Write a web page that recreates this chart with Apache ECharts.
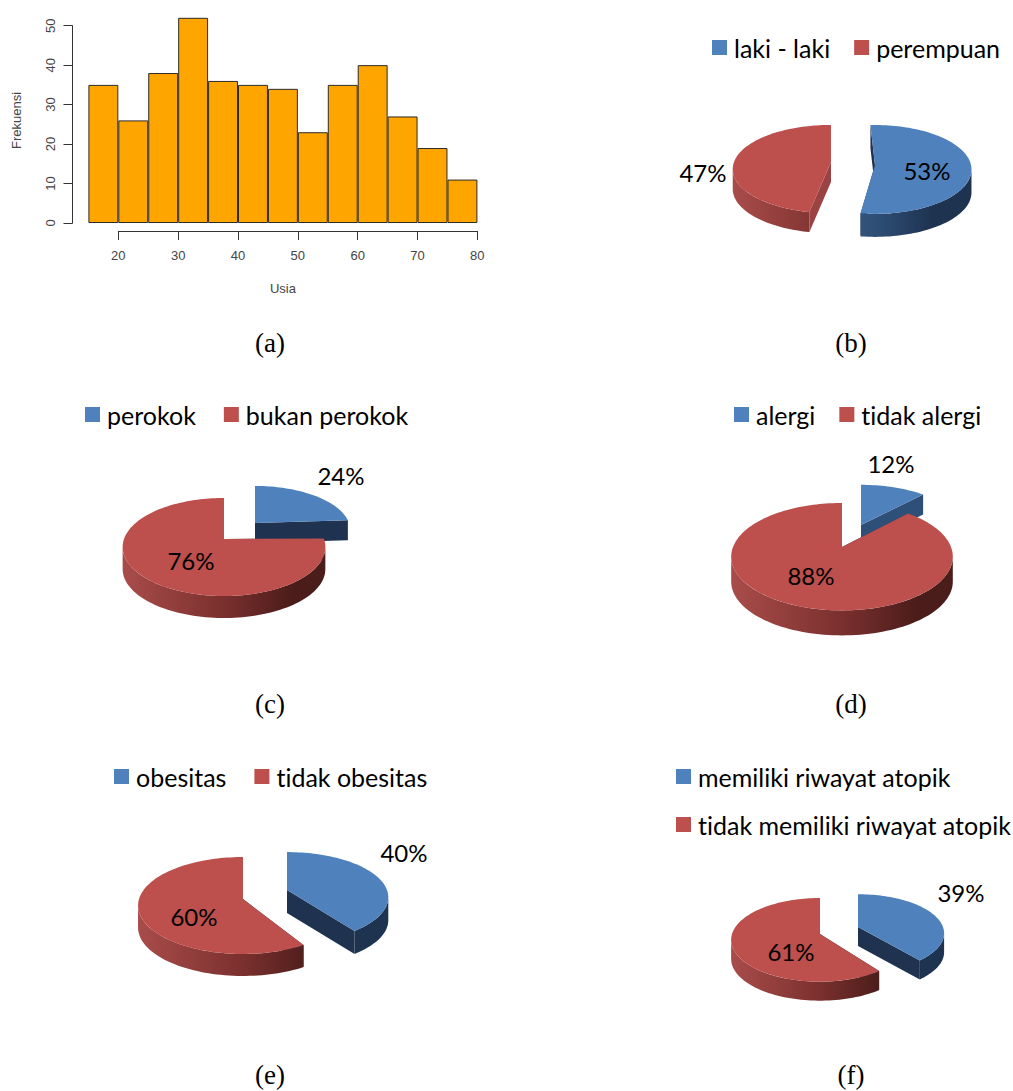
<!DOCTYPE html>
<html>
<head>
<meta charset="utf-8">
<title>Karakteristik responden</title>
<script src="https://cdn.jsdelivr.net/npm/echarts@6/dist/echarts.min.js"></script>
<style>
    html, body { margin: 0; padding: 0; background: #fff; }
    #chart { width: 1013px; height: 1091px; }
    #chart text { font-variant-ligatures: none; }
</style>
</head>
<body>
<div id="chart"></div>
<script>
// histogram (a): 5 year bins from 15 to 80
const usiaBins = ['15-20', '20-25', '25-30', '30-35', '35-40', '40-45', '45-50', '50-55', '55-60', '60-65', '65-70', '70-75', '75-80'];
const frekuensi = [35, 26, 38, 52, 36, 35, 34, 23, 35, 40, 27, 19, 11];

// pies (b)-(f), blue slice first
const jenisKelaminNames = ['laki - laki', 'perempuan'];
const jenisKelaminValues = [53, 47];
const perokokNames = ['perokok', 'bukan perokok'];
const perokokValues = [24, 76];
const alergiNames = ['alergi', 'tidak alergi'];
const alergiValues = [12, 88];
const obesitasNames = ['obesitas', 'tidak obesitas'];
const obesitasValues = [40, 60];
const atopikNames = ['memiliki riwayat atopik', 'tidak memiliki riwayat atopik'];
const atopikValues = [39, 61];

const captions = ['(a)', '(b)', '(c)', '(d)', '(e)', '(f)'];

// svg so the css above can switch off the Lato "ti" ligature
const myChart = echarts.init(document.getElementById('chart'), null, { renderer: 'svg' });

const BLUE = '#4f81bd';
const RED = '#bd4f4c';
const NAVY = '#1f3350';
const FONT = 'Lato';

const blueWall = [
    { offset: 0, color: '#3e6594' }, { offset: 0.5, color: '#2f4f77' },
    { offset: 0.8, color: '#1e3350' }, { offset: 1, color: '#1e3350' }
];
const redWall = [
    { offset: 0, color: '#a84c4a' }, { offset: 0.5, color: '#7a302e' },
    { offset: 0.85, color: '#4a1c1a' }, { offset: 1, color: '#4a1c1a' }
];

// where each slice sits: apex, radii, depth, perspective k, rot/trim in degrees, label centre
const panels = [
    {
        names: jenisKelaminNames, values: jenisKelaminValues,
        legend: { left: 712, top: 35, itemGap: 24 },
        slices: [
            { ax: 875, ay: 165, R: 96, Rv: 44, D: 23, k: 0.1, rot: -3, cut: NAVY, lx: 927, ly: 170 },
            { ax: 831, ay: 162, R: 97, Rv: 43, D: 20, k: 0.16, cut: '#9b4342', lx: 703, ly: 172 }
        ]
    },
    {
        names: perokokNames, values: perokokValues,
        legend: { left: 85, top: 402, itemGap: 28 },
        slices: [
            { ax: 255, ay: 523, R: 94, Rv: 43, D: 20, k: 0.16, cut: NAVY, lx: 341, ly: 475 },
            { ax: 224, ay: 539, R: 100, Rv: 47.7, D: 22, k: 0.163, trim: 3, cut: NAVY, lx: 191, ly: 560 }
        ]
    },
    {
        names: alergiNames, values: alergiValues,
        legend: { left: 734, top: 402, itemGap: 24 },
        slices: [
            { ax: 861, ay: 525, R: 102, Rv: 47, D: 20, k: 0.17, cut: '#2e5078', lx: 891, ly: 463 },
            { ax: 842, ay: 547, R: 109, Rv: 52, D: 25, k: 0.18, cut: NAVY, lx: 811, ly: 575 }
        ]
    },
    {
        names: obesitasNames, values: obesitasValues,
        legend: { left: 114, top: 764, itemGap: 28 },
        slices: [
            { ax: 287, ay: 890, R: 100, Rv: 44, D: 23, k: 0.16, cut: NAVY, lx: 404, ly: 852 },
            { ax: 243, ay: 899, R: 104, Rv: 47.6, D: 22, k: 0.134, trim: 5, cut: NAVY, lx: 194, ly: 916 }
        ]
    },
    {
        names: atopikNames, values: atopikValues,
        legend: { left: 676, top: 764, orient: 'vertical', itemGap: 23 },
        slices: [
            { ax: 858, ay: 927, R: 85, Rv: 38, D: 19, k: 0.16, cut: NAVY, lx: 961, ly: 892 },
            { ax: 820, ay: 934, R: 88, Rv: 41, D: 19, k: 0.14, trim: 3, cut: NAVY, lx: 791, ly: 951 }
        ]
    }
];

// perspective projection of a point on the pie rim, theta clockwise from 12 o'clock
function rim(s, theta) {
    const a = theta * Math.PI / 180;
    const w = 1 + s.k * Math.cos(a);
    return [s.ax + s.R * Math.sin(a) / w, s.ay - s.Rv * Math.cos(a) / w];
}

function arcPoints(s, from, to) {
    const pts = [];
    const steps = Math.max(2, Math.ceil(Math.abs(to - from) / 2));
    for (let i = 0; i <= steps; i++) {
        pts.push(rim(s, from + (to - from) * i / steps));
    }
    return pts;
}

function down(pts, d) {
    return pts.map(p => [p[0], p[1] + d]);
}

function sliceShapes(s, start, end, text, colorTop, wallStops) {
    const apex = [s.ax, s.ay];
    const arc = arcPoints(s, start, end);
    const children = [];
    // cut faces first, the walls and top cover whatever is hidden
    [rim(s, start), rim(s, end)].forEach(p => {
        children.push({
            type: 'polygon',
            shape: { points: [apex, p, [p[0], p[1] + s.D], [apex[0], apex[1] + s.D]] },
            style: { fill: s.cut }
        });
    });
    const edge = Math.acos(-s.k) * 180 / Math.PI;
    const wFrom = Math.max(start, edge);
    const wTo = Math.min(end, 360 - edge);
    if (wTo > wFrom) {
        const wall = arcPoints(s, wFrom, wTo);
        children.push({
            type: 'polygon',
            shape: { points: wall.concat(down(wall, s.D).reverse()) },
            style: {
                fill: new echarts.graphic.LinearGradient(s.ax - s.R, 0, s.ax + s.R, 0, wallStops, true)
            }
        });
    }
    children.push({
        type: 'polygon',
        shape: { points: [apex].concat(arc) },
        style: { fill: colorTop }
    });
    children.push({
        type: 'text',
        z2: 10,
        style: {
            text: text, x: s.lx, y: s.ly,
            align: 'center', verticalAlign: 'middle',
            fontFamily: FONT, fontSize: 24, fill: '#000'
        }
    });
    return { type: 'group', children: children };
}

function pieSeries(panel) {
    const total = panel.values.reduce((a, b) => a + b, 0);
    let acc = 0;
    return panel.values.map((value, i) => {
        const s = panel.slices[i];
        const from = acc / total * 360;
        acc += value;
        const to = acc / total * 360;
        const rot = s.rot || 0;
        const start = from + rot + (s.trim || 0);
        const end = to + rot;
        const color = i === 0 ? BLUE : RED;
        const stops = i === 0 ? blueWall : redWall;
        return {
            type: 'custom',
            name: panel.names[i],
            coordinateSystem: 'none',
            silent: true,
            animation: false,
            itemStyle: { color: color },
            data: [[value]],
            renderItem: function (params, api) {
                return sliceShapes(s, start, end, api.value(0) + '%', color, stops);
            }
        };
    });
}

function pieLegend(panel) {
    return {
        left: panel.legend.left,
        top: panel.legend.top,
        orient: panel.legend.orient || 'horizontal',
        padding: 0,
        itemGap: panel.legend.itemGap,
        itemWidth: 15,
        itemHeight: 15,
        icon: 'rect',
        selectedMode: false,
        data: panel.names,
        textStyle: { fontFamily: FONT, fontSize: 25, color: '#000', padding: [0, 0, 0, 2] }
    };
}

const captionPos = [[270, 345], [851, 345], [270, 706], [851, 706], [270, 1077], [851, 1077]];

const axisText = { fontFamily: 'Liberation Sans', fontSize: 13, color: '#444' };

const option = {
    backgroundColor: '#fff',
    animation: false,
    title: captions.map((text, i) => ({
        text: text,
        left: captionPos[i][0],
        top: captionPos[i][1] - 16,
        padding: 0,
        textAlign: 'center',
        textStyle: { fontFamily: 'Liberation Serif', fontSize: 27, fontWeight: 'normal', color: '#000' }
    })),
    legend: panels.map(pieLegend),
    grid: [
        { left: 88.4, top: 17.8, width: 389, height: 205.2 },
        { left: 118.3, top: 25.7, width: 359, height: 197.3 }
    ],
    xAxis: [
        {
            type: 'category',
            gridIndex: 0,
            data: usiaBins,
            name: 'Usia',
            nameLocation: 'middle',
            nameGap: 59,
            nameTextStyle: axisText,
            axisLine: { show: false },
            axisTick: { show: false },
            axisLabel: { show: false }
        },
        {
            type: 'value',
            gridIndex: 1,
            min: 20,
            max: 80,
            interval: 10,
            offset: 8,
            splitLine: { show: false },
            axisLine: { onZero: false, lineStyle: { color: '#333', width: 1 } },
            axisTick: { length: 9, lineStyle: { color: '#333', width: 1 } },
            axisLabel: Object.assign({ margin: 18 }, axisText)
        }
    ],
    yAxis: [
        {
            type: 'value',
            gridIndex: 0,
            min: 0,
            max: 52,
            name: 'Frekuensi',
            nameLocation: 'middle',
            nameGap: 65,
            nameTextStyle: axisText,
            splitLine: { show: false },
            axisLine: { show: false },
            axisTick: { show: false },
            axisLabel: { show: false }
        },
        {
            type: 'value',
            gridIndex: 1,
            min: 0,
            max: 50,
            interval: 10,
            offset: 45.8,
            splitLine: { show: false },
            axisLine: { show: true, onZero: false, lineStyle: { color: '#333', width: 1 } },
            axisTick: { show: true, length: 9, lineStyle: { color: '#333', width: 1 } },
            axisLabel: Object.assign({ rotate: 90, margin: 16 }, axisText)
        }
    ],
    series: [
        {
            type: 'bar',
            xAxisIndex: 0,
            yAxisIndex: 0,
            barWidth: '100%',
            silent: true,
            data: frekuensi,
            itemStyle: { color: '#ffa500', borderColor: '#2b2b2b', borderWidth: 1 }
        }
    ].concat(...panels.map(pieSeries))
};

myChart.setOption(option);
</script>
</body>
</html>
